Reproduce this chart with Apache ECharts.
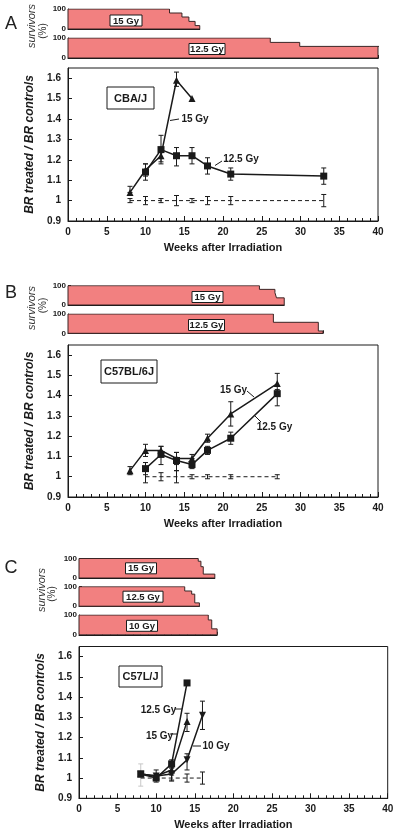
<!DOCTYPE html>
<html><head><meta charset="utf-8">
<script src="https://cdn.jsdelivr.net/npm/echarts@6/dist/echarts.min.js"></script>
<style>html,body{margin:0;padding:0;background:#fff}#c{width:400px;height:835px}</style>
</head><body><div id="c"></div>
<script>
// ================= DATA =================
// Panel A: CBA/J
const A_w15  = [8, 10, 12, 14, 16];
const A_v15  = [1.04, 1.15, 1.22, 1.59, 1.50];
const A_lo15 = [1.04, 1.12, 1.18, 1.56, 1.50];
const A_hi15 = [1.07, 1.18, 1.26, 1.63, 1.50];
const A_w125  = [10, 12, 14, 16, 18, 21, 33];
const A_v125  = [1.14, 1.25, 1.22, 1.22, 1.17, 1.13, 1.12];
const A_lo125 = [1.10, 1.19, 1.17, 1.18, 1.13, 1.10, 1.08];
const A_hi125 = [1.18, 1.32, 1.26, 1.26, 1.21, 1.16, 1.16];
const A_wCtl  = [8, 10, 12, 14, 16, 18, 21, 33];
const A_vCtl  = [1.00, 1.00, 1.00, 1.00, 1.00, 1.00, 1.00, 1.00];
const A_loCtl = [0.99, 0.98, 0.99, 0.975, 0.99, 0.98, 0.98, 0.97];
const A_hiCtl = [1.01, 1.02, 1.01, 1.025, 1.01, 1.02, 1.02, 1.03];
// survival steps (start week of each step, % survivors, end week)
const A_s15_t = [0, 13.1, 14.7, 15.6, 16.4];
const A_s15_p = [100, 80, 60, 38, 17];
const A_s15_end = 17.0;
const A_s125_t = [0, 26.1, 29.9];
const A_s125_p = [100, 78, 58];
const A_s125_end = 40;
const A_s125_tail = 41.3;

// Panel B: C57BL/6J
const B_w15  = [8, 10, 12, 14, 16, 18, 21, 27];
const B_v15  = [1.03, 1.13, 1.13, 1.09, 1.09, 1.19, 1.31, 1.46];
const B_lo15 = [1.01, 1.10, 1.11, 1.06, 1.07, 1.17, 1.25, 1.41];
const B_hi15 = [1.05, 1.16, 1.15, 1.12, 1.11, 1.21, 1.37, 1.51];
const B_w125  = [10, 12, 14, 16, 18, 21, 27];
const B_v125  = [1.04, 1.11, 1.08, 1.06, 1.13, 1.19, 1.41];
const B_lo125 = [1.01, 1.06, 1.03, 1.04, 1.11, 1.16, 1.35];
const B_hi125 = [1.07, 1.15, 1.12, 1.09, 1.15, 1.22, 1.43];
const B_wCtl  = [10, 12, 14, 16, 18, 21, 27];
const B_vCtl  = [1.00, 1.00, 1.00, 1.00, 1.00, 1.00, 1.00];
const B_loCtl = [0.97, 0.98, 0.97, 0.99, 0.99, 0.99, 0.99];
const B_hiCtl = [1.03, 1.02, 1.03, 1.01, 1.01, 1.01, 1.01];
const B_s15_t = [0, 24.7, 26.7, 26.9];
const B_s15_p = [100, 81, 64, 37];
const B_s15_end = 27.9;
const B_s125_t = [0, 26.5, 32.3];
const B_s125_p = [100, 57, 12];
const B_s125_end = 32.9;

// Panel C: C57L/J
const C_w125  = [8, 10, 12, 14];
const C_v125  = [1.02, 1.00, 1.07, 1.47];
const C_lo125 = [1.02, 1.00, 1.05, 1.47];
const C_hi125 = [1.02, 1.00, 1.09, 1.47];
const C_w15  = [8, 10, 12, 14];
const C_v15  = [1.02, 1.01, 1.04, 1.28];
const C_lo15 = [1.02, 1.01, 1.04, 1.23];
const C_hi15 = [1.02, 1.01, 1.04, 1.32];
const C_w10  = [8, 10, 12, 14, 16];
const C_v10  = [1.02, 1.01, 1.02, 1.09, 1.31];
const C_lo10 = [1.02, 0.98, 0.99, 1.04, 1.24];
const C_hi10 = [1.02, 1.04, 1.05, 1.12, 1.38];
const C_wCtl  = [8, 10, 12, 14, 16];
const C_vCtl  = [1.00, 1.00, 1.00, 1.00, 1.00];
const C_loCtl = [1.00, 0.99, 0.985, 0.98, 0.97];
const C_hiCtl = [1.00, 1.01, 1.015, 1.02, 1.03];
const C_wCtlGrey  = [8];
const C_loCtlGrey = [0.96];
const C_hiCtlGrey = [1.07];
const C_s15_t = [0, 15.45, 15.8, 16.1];
const C_s15_p = [100, 86, 58, 20];
const C_s15_end = 17.6;
const C_s125_t = [0, 13.7, 14.6, 15.0];
const C_s125_p = [100, 78, 62, 17];
const C_s125_end = 15.6;
const C_s10_t = [0, 16.75, 17.2];
const C_s10_p = [100, 75, 30];
const C_s10_end = 17.9;

// axis settings
const X_MIN = 0, X_MAX = 40, X_INT = 5;
const Y_MIN = 0.9, Y_MAX = 1.65, Y_INT = 0.1;

// ================= BUILD =================
const FONT = 'Liberation Sans, Arial, Helvetica, sans-serif';
const INK = '#1a1a1a';
const EDGE = '#3b2525';
const FILL = '#f28080';
const grids = [], xAxes = [], yAxes = [], series = [], graphics = [];

function addGrid(g, xa, ya) {
  grids.push(g);
  const gi = grids.length - 1;
  xa.gridIndex = gi; ya.gridIndex = gi;
  xAxes.push(xa); yAxes.push(ya);
  return gi;
}
function stepPoints(t, p, end) {
  const pts = [[0, 0]];
  for (let i = 0; i < t.length; i++) {
    const nxt = i + 1 < t.length ? t[i + 1] : end;
    pts.push([t[i], p[i]]);
    pts.push([nxt, p[i]]);
  }
  pts.push([end, 0]);
  pts.push([0, 0]);
  return pts;
}
function addStrip(left, top, height, pxw, t, p, end, showXTicks) {
  const gi = addGrid(
    { left: left, top: top, width: end * pxw, height: height },
    { type: 'value', min: 0, max: end, interval: 1,
      axisLine: { show: true, lineStyle: { color: INK, width: 1 } },
      axisTick: { show: showXTicks, inside: true, length: 3, lineStyle: { color: INK } },
      axisLabel: { show: false }, splitLine: { show: false } },
    { type: 'value', min: 0, max: 100, interval: 20,
      axisLine: { show: true, lineStyle: { color: INK, width: 1 } },
      axisTick: { show: true, inside: true, length: 3, lineStyle: { color: INK } },
      axisLabel: { show: true, margin: 2, fontSize: 8, fontWeight: 'bold', fontFamily: FONT, color: INK,
        formatter: v => (v === 0 || v === 100) ? String(v) : '' },
      splitLine: { show: false } }
  );
  series.push({ type: 'line', xAxisIndex: gi, yAxisIndex: gi, data: stepPoints(t, p, end),
    symbol: 'none', silent: true, lineStyle: { color: EDGE, width: 1 },
    areaStyle: { color: FILL, opacity: 1 } });
  return gi;
}
function errSeries(gi, w, lo, hi, color) {
  return { type: 'custom', xAxisIndex: gi, yAxisIndex: gi, silent: true, z: 3,
    data: w.map((x, i) => [x, lo[i], hi[i]]),
    renderItem: (params, api) => {
      const x = api.value(0), l = api.value(1), h = api.value(2);
      if (Math.abs(h - l) < 1e-9) return null;
      const a = api.coord([x, l]), b = api.coord([x, h]);
      const st = { stroke: color, lineWidth: 1 };
      return { type: 'group', children: [
        { type: 'line', shape: { x1: a[0], y1: a[1], x2: b[0], y2: b[1] }, style: st },
        { type: 'line', shape: { x1: a[0] - 2.5, y1: a[1], x2: a[0] + 2.5, y2: a[1] }, style: st },
        { type: 'line', shape: { x1: b[0] - 2.5, y1: b[1], x2: b[0] + 2.5, y2: b[1] }, style: st }
      ] };
    } };
}
function addMain(left, top, width, height, groups, ctl, ctlGrey) {
  const gi = addGrid(
    { left: left, top: top, width: width, height: height, show: true, borderColor: INK, borderWidth: 1 },
    { type: 'value', min: X_MIN, max: X_MAX, interval: X_INT,
      name: 'Weeks after Irradiation', nameLocation: 'middle', nameGap: 21,
      nameTextStyle: { fontSize: 11, fontWeight: 'bold', fontFamily: FONT, color: INK },
      axisLine: { show: true, lineStyle: { color: INK } },
      axisTick: { inside: true, length: 5, lineStyle: { color: INK } },
      minorTick: { show: true, splitNumber: 5, length: 3, lineStyle: { color: INK } },
      axisLabel: { margin: 6, fontSize: 10, fontWeight: 'bold', fontFamily: FONT, color: INK },
      splitLine: { show: false }, minorSplitLine: { show: false } },
    { type: 'value', min: Y_MIN, max: Y_MAX, interval: Y_INT,
      name: 'BR treated / BR controls', nameLocation: 'middle', nameGap: 32,
      nameTextStyle: { fontSize: 12, fontWeight: 'bold', fontStyle: 'italic', fontFamily: FONT, color: INK },
      axisLine: { show: true, lineStyle: { color: INK } },
      axisTick: { inside: true, length: 4, lineStyle: { color: INK } },
      axisLabel: { margin: 7, fontSize: 10, fontWeight: 'bold', fontFamily: FONT, color: INK, showMaxLabel: false },
      splitLine: { show: false } }
  );
  // controls (dashed)
  series.push(errSeries(gi, ctl.w, ctl.lo, ctl.hi, INK));
  if (ctlGrey) series.push(errSeries(gi, ctlGrey.w, ctlGrey.lo, ctlGrey.hi, '#c8c8c8'));
  series.push({ type: 'line', xAxisIndex: gi, yAxisIndex: gi, symbol: 'none', silent: true,
    data: ctl.w.map((x, i) => [x, ctl.v[i]]),
    lineStyle: { color: INK, width: 1, type: [4, 3] } });
  groups.forEach(g => {
    series.push(errSeries(gi, g.w, g.lo, g.hi, INK));
    series.push({ type: 'line', xAxisIndex: gi, yAxisIndex: gi, silent: true, z: 4,
      data: g.w.map((x, i) => [x, g.v[i]]),
      symbol: g.symbol, symbolSize: g.size, symbolRotate: g.rotate || 0,
      itemStyle: { color: INK }, lineStyle: { color: INK, width: 1.5 } });
  });
  return gi;
}

const SQ = 'rect', TRI = 'triangle';
// ---- Panel A ----
const A_L = 68, A_W = 310, A_PX = A_W / 40;
addStrip(A_L, 9, 20, A_PX, A_s15_t, A_s15_p, A_s15_end, false);
const giA125 = addStrip(A_L, 38, 20, A_PX, A_s125_t, A_s125_p, A_s125_end, true);
// survival line and baseline continuing past the axis end
const A_lastP = A_s125_p[A_s125_p.length - 1];
series.push({ type: 'line', xAxisIndex: giA125, yAxisIndex: giA125, symbol: 'none', silent: true, clip: false,
  data: [[A_s125_end, A_lastP], [A_s125_tail, A_lastP]], lineStyle: { color: EDGE, width: 1 } });
series.push({ type: 'line', xAxisIndex: giA125, yAxisIndex: giA125, symbol: 'none', silent: true, clip: false,
  data: [[A_s125_end, 0], [A_s125_tail, 0]], lineStyle: { color: INK, width: 1 } });
addMain(A_L, 68, A_W, 153, [
  { w: A_w15, v: A_v15, lo: A_lo15, hi: A_hi15, symbol: TRI, size: 7 },
  { w: A_w125, v: A_v125, lo: A_lo125, hi: A_hi125, symbol: SQ, size: 7 }
], { w: A_wCtl, v: A_vCtl, lo: A_loCtl, hi: A_hiCtl });

// ---- Panel B ----
const B_L = 68, B_W = 310, B_PX = B_W / 40;
addStrip(B_L, 285.7, 19.3, B_PX, B_s15_t, B_s15_p, B_s15_end, false);
addStrip(B_L, 314, 19.3, B_PX, B_s125_t, B_s125_p, B_s125_end, true);
addMain(B_L, 345, B_W, 152, [
  { w: B_w15, v: B_v15, lo: B_lo15, hi: B_hi15, symbol: TRI, size: 7 },
  { w: B_w125, v: B_v125, lo: B_lo125, hi: B_hi125, symbol: SQ, size: 7 }
], { w: B_wCtl, v: B_vCtl, lo: B_loCtl, hi: B_hiCtl });

// ---- Panel C ----
const C_L = 79, C_W = 308.7, C_PX = C_W / 40;
addStrip(C_L, 558.5, 19.5, C_PX, C_s15_t, C_s15_p, C_s15_end, false);
addStrip(C_L, 586.7, 19.5, C_PX, C_s125_t, C_s125_p, C_s125_end, false);
addStrip(C_L, 615, 19.8, C_PX, C_s10_t, C_s10_p, C_s10_end, true);
addMain(C_L, 646.5, C_W, 151.8, [
  { w: C_w10, v: C_v10, lo: C_lo10, hi: C_hi10, symbol: TRI, size: 7, rotate: 180 },
  { w: C_w15, v: C_v15, lo: C_lo15, hi: C_hi15, symbol: TRI, size: 7 },
  { w: C_w125, v: C_v125, lo: C_lo125, hi: C_hi125, symbol: SQ, size: 7 }
], { w: C_wCtl, v: C_vCtl, lo: C_loCtl, hi: C_hiCtl },
   { w: C_wCtlGrey, lo: C_loCtlGrey, hi: C_hiCtlGrey });

// ---- annotations ----
function txt(s, x, y, size, opts) {
  opts = opts || {};
  graphics.push({ type: 'text', x: x, y: y, rotation: opts.rot || 0, z: 20,
    style: { text: s, x: 0, y: 0, align: 'center', verticalAlign: 'middle', fill: opts.color || INK,
      font: (opts.style || 'normal') + ' ' + (opts.weight || 'bold') + ' ' + size + 'px ' + FONT } });
}
function boxTxt(s, cx, cy, w, h, size) {
  graphics.push({ type: 'rect', z: 19, shape: { x: cx - w / 2, y: cy - h / 2, width: w, height: h },
    style: { fill: '#fff', stroke: INK, lineWidth: 1 } });
  txt(s, cx, cy + 0.5, size);
}
function seg(x1, y1, x2, y2) {
  graphics.push({ type: 'line', z: 20, shape: { x1, y1, x2, y2 }, style: { stroke: INK, lineWidth: 1 } });
}
// panel letters
txt('A', 11, 24, 18, { weight: 'normal', color: '#222' });
txt('B', 11, 293, 18, { weight: 'normal', color: '#222' });
txt('C', 11, 568, 18, { weight: 'normal', color: '#222' });
// survivors labels
const surv = (cx, cy, px, py) => {
  txt('survivors', cx, cy, 11, { rot: Math.PI / 2, style: 'italic', weight: 'normal', color: '#333' });
  txt('(%)', px, py, 10, { rot: Math.PI / 2, style: 'normal', weight: 'normal', color: '#333' });
};
surv(32, 26, 43, 31);
surv(32, 308, 43, 305.5);
surv(42, 590, 52, 594);
// strip dose boxes
boxTxt('15 Gy', 126, 20.5, 32, 11, 9.5);
boxTxt('12.5 Gy', 207, 49, 36, 11, 9.5);
boxTxt('15 Gy', 207.5, 297, 31, 11, 9.5);
boxTxt('12.5 Gy', 206.5, 325, 36, 11, 9.5);
boxTxt('15 Gy', 141, 568.3, 31, 11, 9.5);
boxTxt('12.5 Gy', 143, 596.7, 40, 11, 9.5);
boxTxt('10 Gy', 142, 625.8, 31, 11, 9.5);
// strain boxes
boxTxt('CBA/J', 130.5, 98, 47, 22, 11);
boxTxt('C57BL/6J', 129, 371.5, 56, 23, 11);
boxTxt('C57L/J', 140.5, 676.5, 43, 21, 11);
// dose labels on main charts
seg(170, 120.5, 179, 119);  txt('15 Gy', 195, 119.5, 10);
seg(215, 165.5, 222, 161);  txt('12.5 Gy', 241, 159.5, 10);
seg(247, 391, 254, 397);    txt('15 Gy', 233.5, 390, 10);
seg(255, 416, 261, 422);    txt('12.5 Gy', 274.5, 427.5, 10);
seg(175, 709, 182, 709);    txt('12.5 Gy', 158.5, 710, 10);
seg(170, 734, 177, 734);    txt('15 Gy', 159.5, 736, 10);
seg(193, 746, 201, 746);    txt('10 Gy', 216, 746.5, 10);

const chart = echarts.init(document.getElementById('c'), null, { renderer: 'canvas' });
chart.setOption({
  animation: false,
  backgroundColor: '#fff',
  textStyle: { fontFamily: FONT },
  grid: grids, xAxis: xAxes, yAxis: yAxes, series: series, graphic: graphics
});
</script></body></html>
